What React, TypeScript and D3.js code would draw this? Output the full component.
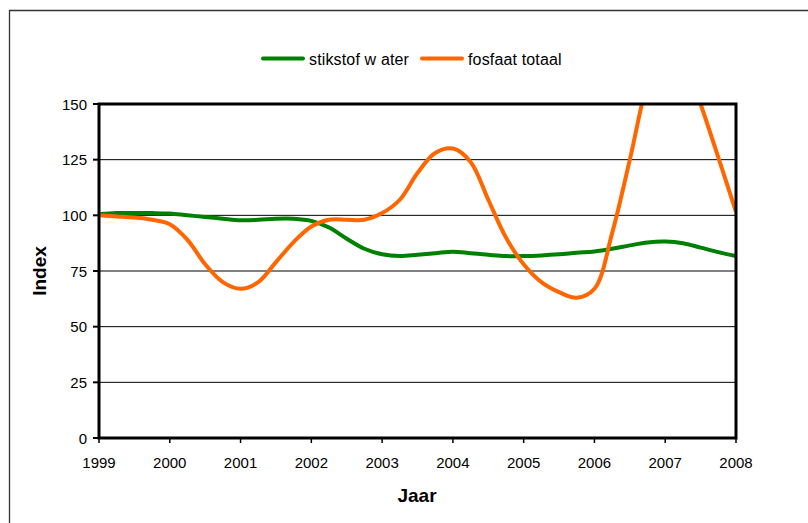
import * as d3 from 'd3';

const years = [
  1999, 1999.25, 1999.5, 1999.75, 2000, 2000.25, 2000.5, 2000.75, 2001, 2001.25, 2001.5, 2001.75,
  2002, 2002.25, 2002.5, 2002.75, 2003, 2003.25, 2003.5, 2003.75, 2004, 2004.25, 2004.5, 2004.75,
  2005, 2005.25, 2005.5, 2005.75, 2006, 2006.25, 2006.5, 2006.75, 2007, 2007.25, 2007.5, 2007.75,
  2008,
];

const stikstofWater = [
  100.5, 101, 101, 101, 100.8, 100, 99.3, 98.5, 97.8, 98, 98.5, 98.5,
  97.5, 94.5, 89.5, 85, 82.5, 81.7, 82.3, 83, 83.7, 83, 82.3, 81.7,
  81.7, 82, 82.5, 83.2, 83.8, 85, 86.5, 87.8, 88.2, 87.5, 85.5, 83.5,
  81.7,
];

const fosfaatTotaal = [
  100, 99.5, 99, 98, 96, 89, 78, 70, 67, 70, 79, 88,
  95, 98, 98, 98, 101, 107, 119, 128, 130, 124, 107, 90,
  78, 70, 65.5, 63, 67, 92, 125, 160, 182, 172, 150, 126,
  101.5,
];

const yearTicks = [1999, 2000, 2001, 2002, 2003, 2004, 2005, 2006, 2007, 2008];
const indexTicks = [0, 25, 50, 75, 100, 125, 150];

const series = [
  { name: 'stikstof w ater', values: stikstofWater, color: '#008000' },
  { name: 'fosfaat totaal', values: fosfaatTotaal, color: '#FF6600' },
];

const font = 'Arial, "Liberation Sans", sans-serif';

export default function App() {
  const left = 99;
  const right = 736;
  const top = 104;
  const bottom = 438;

  const x = d3.scaleLinear().domain([1999, 2008]).range([left, right]);
  const y = d3.scaleLinear().domain([0, 150]).range([bottom, top]);

  const line = d3
    .line<number>()
    .x((_, i) => x(years[i]))
    .y((d) => y(d))
    .curve(d3.curveCatmullRom.alpha(0.5));

  // legend swatch + label positions
  const legendPos = [
    { x1: 263, x2: 303, tx: 309 },
    { x1: 422, x2: 462, tx: 468 },
  ];

  return (
    <svg
      width={808}
      height={523}
      style={{ position: 'absolute', left: 0, top: 0, background: '#fff' }}
      fontFamily={font}
    >
      <defs>
        <clipPath id="plot">
          <rect x={left} y={top} width={right - left} height={bottom - top} />
        </clipPath>
      </defs>
      <rect x={0} y={0} width={808} height={523} fill="#fff" />
      {/* outer chart frame, runs off the page to the right and bottom */}
      <path d="M9.5,530 V10.5 H820" fill="none" stroke="#333" strokeWidth={1.3} />

      {/* legend */}
      {series.map((s, i) => (
        <g key={s.name}>
          <line
            x1={legendPos[i].x1}
            x2={legendPos[i].x2}
            y1={58.5}
            y2={58.5}
            stroke={s.color}
            strokeWidth={4}
            strokeLinecap="round"
          />
          <text x={legendPos[i].tx} y={64.5} fontSize={16} letterSpacing={0.15} fill="#000">
            {s.name}
          </text>
        </g>
      ))}

      {/* gridlines */}
      {indexTicks
        .filter((t) => t > 0 && t < 150)
        .map((t) => (
          <line key={t} x1={left} x2={right} y1={y(t)} y2={y(t)} stroke="#000" strokeWidth={1} />
        ))}

      {/* y ticks */}
      {indexTicks.map((t) => (
        <g key={t}>
          <line x1={left - 6} x2={left} y1={y(t)} y2={y(t)} stroke="#000" strokeWidth={2} />
          <text x={87} y={y(t) + 5.5} fontSize={15} textAnchor="end">
            {t}
          </text>
        </g>
      ))}

      {/* x ticks */}
      {yearTicks.map((t) => (
        <g key={t}>
          <line x1={x(t)} x2={x(t)} y1={bottom} y2={bottom + 5} stroke="#000" strokeWidth={1.5} />
          <text x={x(t)} y={468} fontSize={15} textAnchor="middle">
            {t}
          </text>
        </g>
      ))}

      {/* series */}
      <g clipPath="url(#plot)">
        {series.map((s) => (
          <path
            key={s.name}
            d={line(s.values)!}
            fill="none"
            stroke={s.color}
            strokeWidth={4}
            strokeLinejoin="round"
          />
        ))}
      </g>

      {/* plot frame */}
      <rect
        x={left}
        y={top}
        width={right - left}
        height={bottom - top}
        fill="none"
        stroke="#000"
        strokeWidth={3}
      />

      {/* axis titles */}
      <text x={417} y={502} fontSize={19} fontWeight="bold" textAnchor="middle">
        Jaar
      </text>
      <text
        transform={`translate(46,${(top + bottom) / 2}) rotate(-90)`}
        fontSize={19}
        fontWeight="bold"
        textAnchor="middle"
      >
        Index
      </text>
    </svg>
  );
}
